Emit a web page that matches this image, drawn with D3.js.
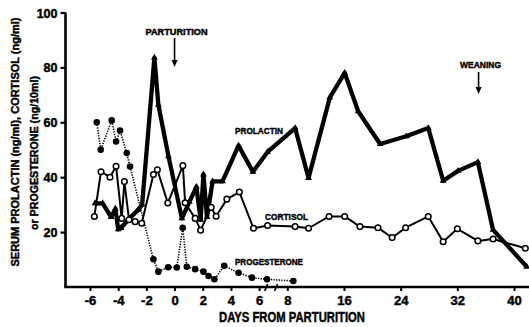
<!DOCTYPE html>
<html>
<head>
<meta charset="utf-8">
<script src="https://cdn.jsdelivr.net/npm/d3@7"></script>
<style>
  html, body { margin: 0; padding: 0; background: #fff; }
  svg { display: block; }
  text { font-family: "Liberation Sans", Arial, sans-serif; font-weight: bold; fill: #000; stroke: #000; stroke-width: 0.45px; }
</style>
</head>
<body>
<svg id="chart" width="529" height="327"></svg>
<script>
// Days relative to parturition and hormone levels
const prolactinDays = [-5.64, -5.1, -4.5, -4.2, -4.0, -3.8, -3.2, -2.6, -2.3, -1.43, -1.15, -0.43, 0.52, 1.05, 1.55, 1.85, 2.05, 2.3, 2.7, 3.4, 4.54, 5.56, 6.6, 9.1, 11.0, 14.0, 16.1, 18.0, 21.1, 24.8, 27.9, 30.0, 32.1, 34.9, 37.05, 41.8];
const prolactinValues = [30.5, 30.5, 25.5, 28.5, 21, 21.5, 25, 28, 30, 83.5, 66.4, 47.6, 25, 31, 36.5, 24.5, 41, 25.5, 38.5, 38.5, 51.5, 42, 49.2, 57.9, 39.7, 69, 78, 64, 52.1, 54.9, 57.9, 38.7, 42.3, 45.5, 20.8, 7.4];

const cortisolDays = [-5.69, -5.22, -4.58, -4.15, -3.75, -3.56, -3.23, -2.8, -2.33, -1.5, -1.22, -0.48, 0.59, 0.75, 1.46, 1.85, 2.6, 2.95, 3.71, 4.6, 5.6, 6.6, 9.1, 11.0, 13.9, 16.1, 18.25, 20.8, 22.8, 24.7, 27.9, 30.0, 32.0, 34.9, 37.05, 41.6];
const cortisolValues = [25.7, 42, 40, 44, 25, 38.4, 24.5, 23.8, 23.2, 41, 42.7, 30.6, 44.2, 30.7, 25, 20.7, 29, 25.8, 32, 34.6, 21.4, 22.4, 22, 21.4, 25.7, 25.7, 22, 21.6, 18, 21.6, 25.7, 16.5, 21.2, 16.8, 17.5, 14.1];

const progesteroneDays = [-5.52, -5.24, -4.46, -4.15, -3.87, -3.39, -3.16, -1.5, -1.15, -0.45, 0.16, 0.58, 0.87, 1.46, 2.05, 2.41, 2.83, 3.52, 4.54, 5.49, 6.56, 8.85];
const progesteroneValues = [60, 50, 60.7, 53, 57, 48.8, 43.9, 10.1, 5.6, 7.2, 7.1, 21.6, 7.4, 6.5, 5.6, 4, 2.8, 7.7, 5.2, 3.4, 2.8, 2.2];

const xTicks = [-6, -4, -2, 0, 2, 4, 6, 8, 16, 24, 32, 40];
const yTicks = [20, 40, 60, 80, 100];
const axisBreaks = [6.5, 7.2];
const events = [
  { day: 0, label: "PARTURITION" },
  { day: 35, label: "WEANING" }
];

const svg = d3.select("#chart");

// Compressed time axis: 2-day steps up to day 8, 8-day steps after
const x = d3.scaleLinear().domain([-6, 8, 40]).range([90, 287.3, 514]);
const y = d3.scaleLinear().domain([0, 100]).range([287, 12.5]);
const axisX = 65.5;

// Y axis
const yAxis = svg.append("g")
  .attr("transform", `translate(${axisX},0)`)
  .call(d3.axisLeft(y).tickValues(yTicks).tickSize(5).tickSizeOuter(0).tickPadding(3));
yAxis.select(".domain").attr("stroke", "#000").attr("stroke-width", 2.6)
  .attr("d", `M0,${y(0)}V${y(100)}`);
yAxis.selectAll(".tick line").attr("stroke", "#000").attr("stroke-width", 2.2);
yAxis.selectAll(".tick text").attr("font-size", 12.5).attr("font-family", null).attr("dy", "0.36em");

// X axis
const xAxis = svg.append("g")
  .attr("transform", `translate(0,${y(0)})`)
  .call(d3.axisBottom(x).tickValues(xTicks).tickSize(4).tickSizeOuter(0).tickPadding(5)
    .tickFormat(d => d < 0 ? "-" + Math.abs(d) : String(d)));
xAxis.select(".domain").attr("stroke", "#000").attr("stroke-width", 2.6)
  .attr("d", `M${axisX - 1.3},0H529`);
xAxis.selectAll(".tick line").attr("stroke", "#000").attr("stroke-width", 2);
xAxis.selectAll(".tick text").attr("font-size", 13).attr("font-family", null);

// Break marks on the time axis
svg.append("g").selectAll("line").data(axisBreaks).join("line")
  .attr("x1", d => x(d) - 1.5).attr("x2", d => x(d) + 1.5)
  .attr("y1", y(0) + 4).attr("y2", y(0) - 3)
  .attr("stroke", "#000").attr("stroke-width", 1.6);

// Axis titles
svg.append("text")
  .attr("x", 292).attr("y", 322)
  .attr("text-anchor", "middle")
  .attr("font-size", 14.5)
  .attr("textLength", 146).attr("lengthAdjust", "spacingAndGlyphs")
  .text("DAYS FROM PARTURITION");

const yTitle = svg.append("g");
yTitle.append("text")
  .attr("transform", "translate(19,142) rotate(-90)")
  .attr("text-anchor", "middle")
  .attr("font-size", 11)
  .attr("textLength", 249).attr("lengthAdjust", "spacingAndGlyphs")
  .text("SERUM PROLACTIN (ng/ml), CORTISOL (ng/ml)");
yTitle.append("text")
  .attr("transform", "translate(37.5,153) rotate(-90)")
  .attr("text-anchor", "middle")
  .attr("font-size", 11)
  .attr("textLength", 154).attr("lengthAdjust", "spacingAndGlyphs")
  .text("or PROGESTERONE (ng/10ml)");

// Series
const prolactin = prolactinDays.map((d, i) => [d, prolactinValues[i]]);
const cortisol = cortisolDays.map((d, i) => [d, cortisolValues[i]]);
const progesterone = progesteroneDays.map((d, i) => [d, progesteroneValues[i]]);

const line = d3.line().x(d => x(d[0])).y(d => y(d[1]));

// Progesterone: dotted line, filled circles
svg.append("path").datum(progesterone)
  .attr("d", line).attr("fill", "none")
  .attr("stroke", "#000").attr("stroke-width", 1.6)
  .attr("stroke-dasharray", "1.3 1.3");
svg.append("g").selectAll("circle").data(progesterone).join("circle")
  .attr("cx", d => x(d[0])).attr("cy", d => y(d[1])).attr("r", 3.3)
  .attr("fill", "#000");

// Cortisol: medium line, open circles
svg.append("path").datum(cortisol)
  .attr("d", line).attr("fill", "none")
  .attr("stroke", "#000").attr("stroke-width", 2)
  .attr("stroke-linejoin", "round");

// Prolactin: heavy line, small filled triangles
svg.append("path").datum(prolactin)
  .attr("d", line).attr("fill", "none")
  .attr("stroke", "#000").attr("stroke-width", 4.3)
  .attr("stroke-linejoin", "round");
svg.append("g").selectAll("path").data(prolactin).join("path")
  .attr("transform", d => `translate(${x(d[0])},${y(d[1])})`)
  .attr("d", d3.symbol(d3.symbolTriangle, 20))
  .attr("fill", "#000");

svg.append("g").selectAll("circle").data(cortisol).join("circle")
  .attr("cx", d => x(d[0])).attr("cy", d => y(d[1])).attr("r", 2.8)
  .attr("fill", "#fff").attr("stroke", "#000").attr("stroke-width", 1.5);

// Series labels
const seriesLabels = [
  { text: "PROLACTIN", x: 259, y: 133.5, w: 48 },
  { text: "CORTISOL", x: 286.5, y: 220, w: 43 },
  { text: "PROGESTERONE", x: 269, y: 265, w: 68 }
];
svg.append("g").selectAll("text").data(seriesLabels).join("text")
  .attr("x", d => d.x).attr("y", d => d.y)
  .attr("text-anchor", "middle").attr("font-size", 9.5)
  .attr("textLength", d => d.w).attr("lengthAdjust", "spacingAndGlyphs")
  .text(d => d.text);

// Event markers
const arrowSpecs = [
  { y0: 38, y1: 67, ty: 34.5, tw: 62 },
  { y0: 72, y1: 94, ty: 68, tw: 41 }
];
events.forEach((e, i) => {
  const s = arrowSpecs[i];
  const ex = x(e.day);
  const g = svg.append("g");
  g.append("text").attr("x", ex + 2).attr("y", s.ty)
    .attr("text-anchor", "middle").attr("font-size", 9)
    .attr("textLength", s.tw).attr("lengthAdjust", "spacingAndGlyphs")
    .text(e.label);
  g.append("line").attr("x1", ex).attr("x2", ex)
    .attr("y1", s.y0).attr("y2", s.y1 - 5)
    .attr("stroke", "#000").attr("stroke-width", 1.6);
  g.append("path")
    .attr("d", `M${ex - 3},${s.y1 - 7}L${ex + 3},${s.y1 - 7}L${ex},${s.y1}Z`)
    .attr("fill", "#000");
});
</script>
</body>
</html>
